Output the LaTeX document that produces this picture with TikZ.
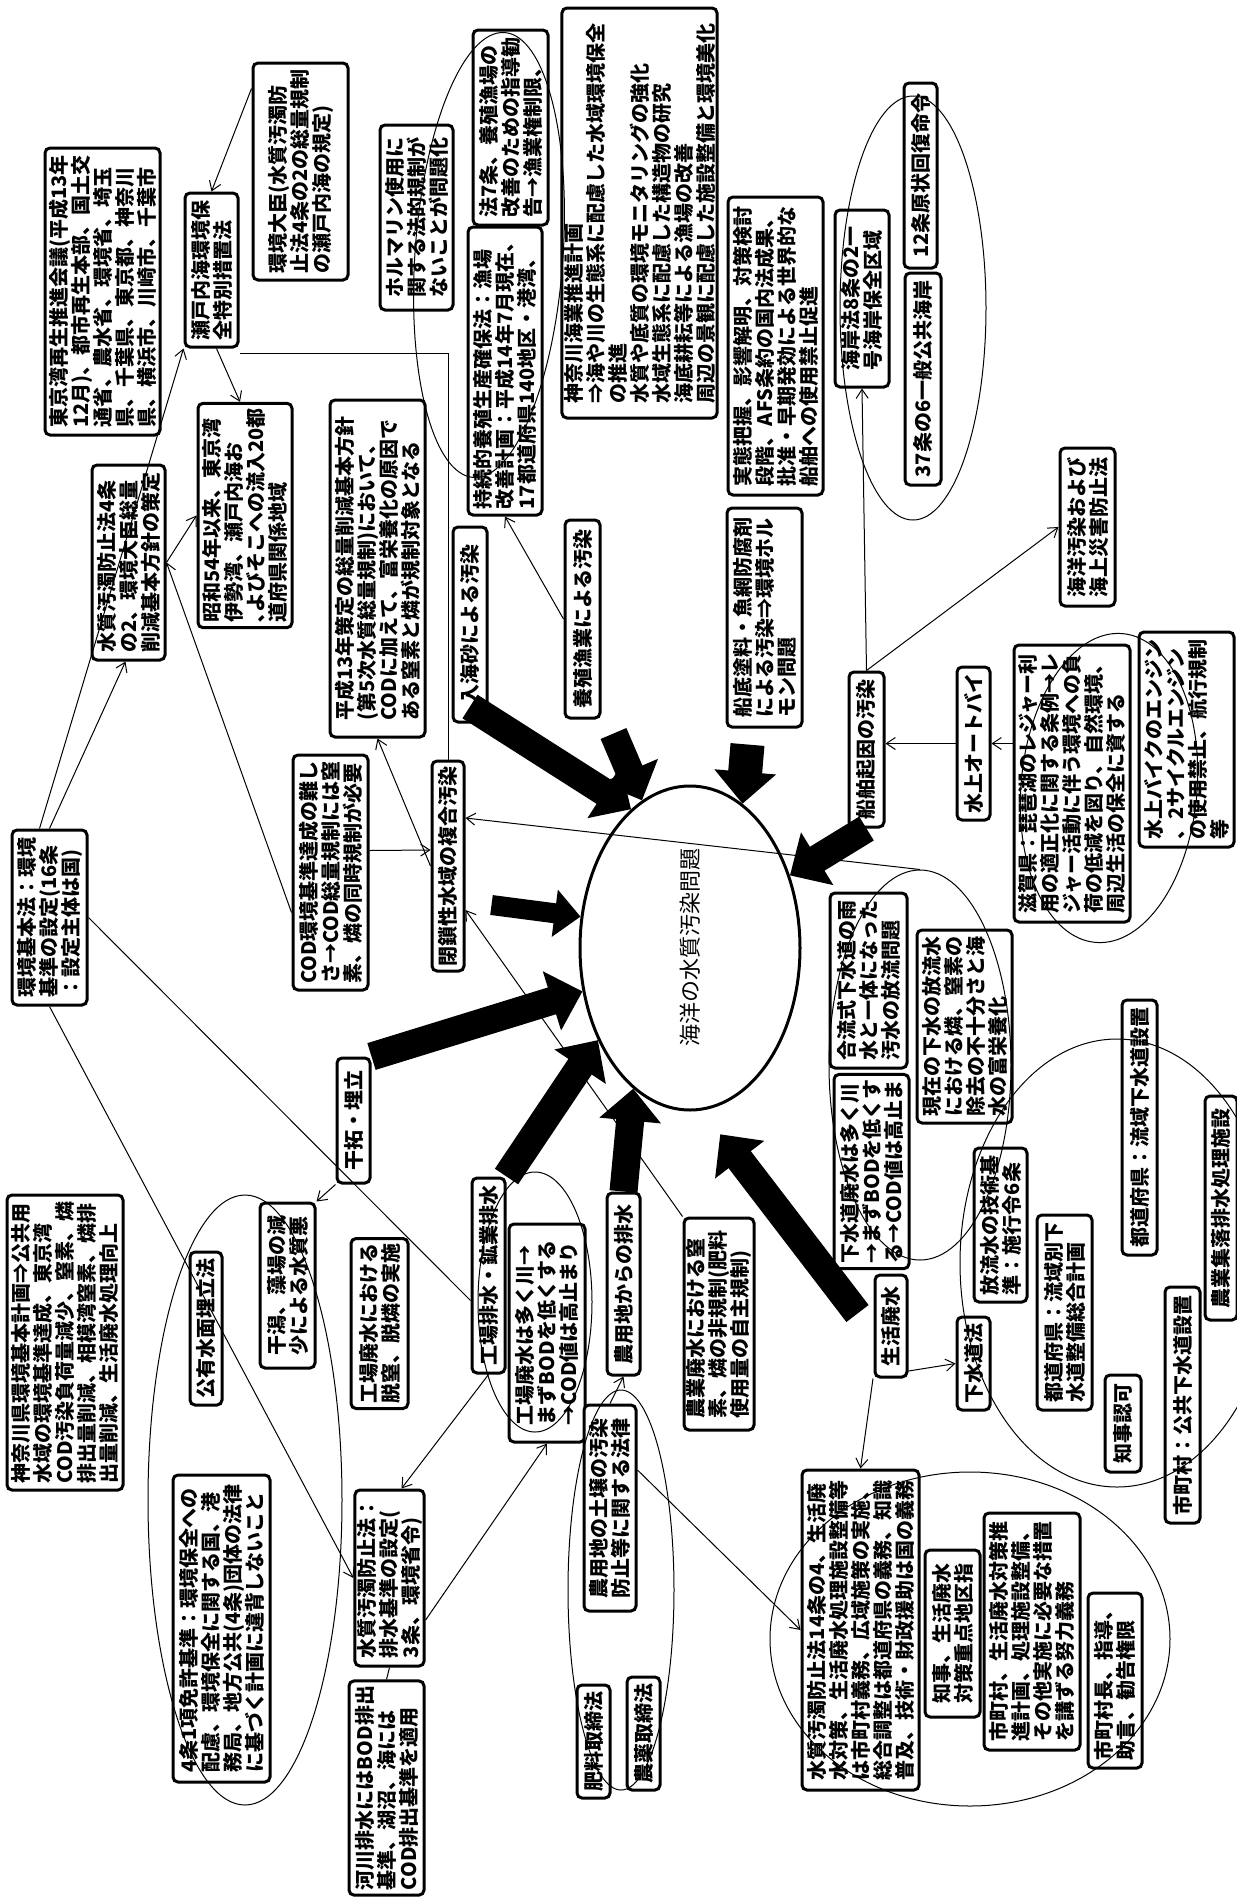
\documentclass[tikz,border=0pt]{standalone}
\usepackage{fontspec}
\newfontfamily\jp{Noto Sans CJK JP}
\usetikzlibrary{arrows.meta,shapes.geometric,calc}

\begin{document}
\begin{tikzpicture}[x=1pt, y=-1pt, >={Straight Barb[length=9pt,width=12pt]},
  box/.style={draw, line width=3pt, rounded corners=5pt, fill=white, rotate=90, align=left,
    inner xsep=5pt, inner ysep=2pt, font=\jp\bfseries\fontsize{20}{22}\selectfont},
  bx/.style 2 args={box, minimum width=#1pt, minimum height=#2pt},
  ring/.style={draw, ellipse, line width=1pt},
  link/.style={line width=1pt},
  fat/.style={line width=28pt, -{Triangle[width=60pt,length=32pt]}}]

  \useasboundingbox (0,0) rectangle (1237,1899);

  % boxes, upper part
  \node[bx={287}{115}] (tokyo) at (102.5,291.5) {東京湾再生推進会議(平成13年\\12月)、都市再生本部、国土交\\通省、農水省、環境省、埼玉\\県、千葉県、東京都、神奈川\\県、横浜市、川崎市、千葉市};
  \node[bx={154}{53}] (setouchi) at (211.5,270) {瀬戸内海環境保\\全特別措置法};
  \node[bx={217}{95}] (daijin) at (300.5,171.5) {環境大臣(水質汚濁防\\止法4条の2の総量規制\\の瀬戸内海の規定)};
  \node[bx={185}{73}] (formalin) at (416.5,217.5) {ホルマリン使用に\\関する法的規制が\\ないことが問題化};
  \node[bx={195}{75}] (hou7) at (510.5,127.5) {法7条、養殖漁場の\\改善のための指導勧\\告→漁業権制限、};
  \node[bx={288}{74}] (jizoku) at (505,371) {持続的養殖生産確保法：漁場\\改善計画：平成14年7月現在、\\17都道府県140地区・港湾、};
  \node[bx={410}{155}] (umigyo) at (639.5,213) {神奈川海業推進計画\\⇒海や川の生態系に配慮した水域環境保全\\の推進\\水質や底質の環境モニタリングの強化\\水域生態系に配慮した構造物の研究\\海底耕耘等による漁場の改善\\周辺の景観に配慮した施設整備と環境美化};
  \node[bx={298}{95}] (jittai) at (775.5,346) {実態把握、影響解明、対策検討\\段階、AFS条約の国内法成果、\\批准・早期発効による世界的な\\船舶への使用禁止促進};
  \node[bx={177}{54}] (kaigan) at (862,298.5) {海岸法8条の2一\\号海岸保全区域};
  \node[bx={185}{33}] (jou12) at (920.5,175.5) {12条原状回復命令};
  \node[bx={212}{36}] (jou37) at (923,379) {37条の6一般公共海岸};

  \node[bx={195}{73}] (suidaku4) at (128.5,562.5) {水質汚濁防止法4条\\の2、環境大臣総量\\削減基本方針の策定};
  \node[bx={215}{94}] (showa) at (245,515.5) {昭和54年以来、東京湾\\伊勢湾、瀬戸内海お\\､よびそこへの流入20都\\道府県関係地域};
  \node[bx={337}{95}] (heisei) at (377.5,568.5) {平成13年策定の総量削減基本方針\\(第5次水質総量規制)において、\\CODに加えて、富栄養化の原因で\\ある窒素と燐が規制対象となる};
  \node[bx={235}{75}] (cod) at (330.5,872.5) {COD環境基準達成の難し\\さ→COD総量規制には窒\\素、燐の同時規制が必要};
  \node[bx={205}{32}] (heisa) at (448,866) {閉鎖性水域の複合汚染};
  \node[bx={195}{34}] (kaisa) at (470,624.5) {入海砂による汚染};
  \node[bx={198}{35}] (yoshoku) at (582.5,619) {養殖漁業による汚染};
  \node[bx={219}{75}] (sentei) at (764.5,617.5) {船底塗料・魚網防腐剤\\による汚染⇒環境ホル\\モン問題};
  \node[bx={175}{75}] (kihon) at (49.5,917.5) {環境基本法：環境\\基準の設定(16条\\：設定主体は国)};

  \node[bx={155}{35}] (senpaku) at (866.5,749.5) {船舶起因の汚染};
  \node[bx={158}{55}] (kaiyo) at (1087.5,527) {海洋汚染および\\海上災害防止法};
  \node[bx={153}{33}] (jetski) at (973.5,743.5) {水上オートバイ};
  \node[bx={277}{116}] (shiga) at (1072,783.5) {滋賀県：琵琶湖のレジャー利\\用の適正化に関する条例→レ\\ジャー活動に伴う環境への負\\荷の低減を図り、自然環境、\\周辺生活の保全に資する};
  \node[bx={215}{95}] (bike) at (1186.5,739.5) {水上バイクのエンジン\\、2サイクルエンジン\\の使用禁止、航行規制\\等};

  % boxes, lower part
  \node[bx={175}{77}] (goryu) at (868.5,980.5) {合流式下水道の雨\\水と一体になった\\汚水の放流問題};
  \node[bx={193}{75}] (gesui) at (871.5,1171.5) {下水道廃水は多く川\\→まずBODを低くす\\る→COD値は高止ま};
  \node[bx={193}{95}] (genzai) at (964.5,1026.5) {現在の下水の放流水\\における燐、窒素の\\除去の不十分さと海\\水の富栄養化};
  \node[bx={154}{53}] (gijutsu) at (1000.5,1225) {放流水の技術基\\準：施行令6条};
  \node[bx={255}{35}] (ryuiki) at (1139.5,1127.5) {都道府県：流域下水道設置};
  \node[bx={224}{32}] (shuraku) at (1221,1208) {農業集落排水処理施設};
  \node[bx={195}{55}] (betsu) at (1064.5,1312.5) {都道府県：流域別下\\水道整備総合計画};
  \node[bx={102}{32}] (seikatsu) at (891,1326) {生活廃水};
  \node[bx={93}{33}] (gesuiho) at (973.5,1363.5) {下水道法};
  \node[bx={97}{36}] (ninka) at (1123,1423.5) {知事認可};
  \node[bx={236}{35}] (kokyo) at (1182.5,1405) {市町村：公共下水道設置};
  \node[bx={320}{117}] (jou14) at (860.5,1630) {水質汚濁防止法14条の4、生活廃\\水対策、生活廃水処理施設整備等\\は市町村義務、広域施策の実施、\\総合調整は都道府県の義務、知識\\普及、技術・財政援助は国の義務};
  \node[bx={167}{55}] (chiji) at (952.5,1633.5) {知事、生活廃水\\対策重点地区指};
  \node[bx={237}{96}] (doryoku) at (1032,1631.5) {市町村、生活廃水対策推\\進計画、処理施設整備、\\その他実施に必要な措置\\を講ずる努力義務};
  \node[bx={175}{54}] (chouchou) at (1115,1680.5) {市町村長、指導、\\助言、勧告権限};

  \node[bx={295}{116}] (kkeikaku) at (65,1342.5) {神奈川県環境基本計画⇒公共用\\水域の環境基準達成、東京湾\\COD汚染負荷量減少、窒素、燐\\排出量削減、相模湾窒素、燐排\\出量削減、生活廃水処理向上};
  \node[bx={125}{33}] (kantaku) at (353.5,1120.5) {干拓・埋立};
  \node[bx={165}{55}] (higata) at (287.5,1285.5) {干潟、藻場の減\\少による水質悪};
  \node[bx={153}{32}] (koyu) at (206,1328.5) {公有水面埋立法};
  \node[bx={163}{57}] (dacchitsu) at (379.5,1323.5) {工場廃水における\\脱窒、脱燐の実施};
  \node[bx={307}{97}] (menkyo) at (221.5,1628.5) {4条1項免許基準：環境保全への\\配慮、環境保全に関する国、港\\務局、地方公共(4条)団体の法律\\に基づく計画に違背しないこと};
  \node[bx={176}{69}] (haisui) at (389.5,1578) {水質汚濁防止法：\\排水基準の設定(\\3条、環境省令)};
  \node[bx={206}{75}] (kasen) at (386.5,1788) {河川排水にはBOD排出\\基準、湖沼、海には\\COD排出基準を適用};
  \node[bx={195}{33}] (kojohaisui) at (488.5,1275.5) {工場排水・鉱業排水};
  \node[bx={218}{76}] (kojoooku) at (547,1333) {工場廃水は多く川→\\まずBODを低くする\\→COD値は高止まり};
  \node[bx={182}{33}] (noyohaisui) at (623.5,1284) {農用地からの排水};
  \node[bx={212}{70}] (nogyo) at (719,1324) {農業廃水における窒\\素、燐の非規制(肥料\\使用量の自主規制)};
  \node[bx={206}{52}] (dojo) at (610,1508) {農用地の土壌の汚染\\防止等に関する法律};
  \node[bx={113}{33}] (hiryo) at (593.5,1741.5) {肥料取締法};
  \node[bx={113}{33}] (noyaku) at (643.5,1733.5) {農薬取締法};

  % centre
  \node[draw, ellipse, line width=3pt, minimum width=220pt, minimum height=324pt] (mondai) at (690,948) {};
  \node[rotate=90, font=\jp\fontsize{22}{24}\selectfont] (mondaitxt) at (690,947) {海洋の水質汚染問題};

  % groupings
  \node[ring, minimum width=148pt, minimum height=446pt, rotate=-4] (e1) at (489,255) {};
  \node[ring, minimum width=146pt, minimum height=424pt] (e2) at (913,308) {};
  \node[ring, minimum width=176pt, minimum height=310pt, rotate=-5] (e3) at (1109,788) {};
  \node[ring, minimum width=114pt, minimum height=260pt] (e4) at (535,1302) {};
  \node[ring, minimum width=106pt, minimum height=400pt] (e5) at (621,1590) {};
  \node[ring, minimum width=400pt, minimum height=334pt] (e6) at (970,1639) {};
  \node[ring, minimum width=194pt, minimum height=610pt] (e7) at (245,1500) {};
  \node[ring, minimum width=182pt, minimum height=390pt] (e8) at (920,1065) {};
  \node[ring, minimum width=314pt, minimum height=448pt] (e9) at (1117,1263) {};

  % thin connectors
  \draw[link,->] ([yshift=-27pt]daijin.north east) -- (setouchi.east);
  \draw[link,->] ([xshift=-10pt]kihon.east) -- (setouchi.north west);
  \draw[link,->] (kihon.east) -- ([xshift=-3pt]suidaku4.west);
  \draw[link,->] (suidaku4.south) -- (showa.north);
  \draw[link,->] ([xshift=5pt]setouchi.west) -- ([xshift=-5pt]showa.east);
  \draw[link] ([yshift=-5pt]setouchi.south west) -| (heisa.east);
  \draw[link,->] (heisa.north) -- (heisei.west);
  \draw[link,->] ([yshift=22pt]cod.south) -- ([yshift=16pt]heisa.north);
  \draw[link,->] ([yshift=-40pt]cod.north) -- (suidaku4.south);
  \draw[link,->] (yoshoku.north) -- (jizoku.west);
  \draw[link,->] (senpaku.east) -- (kaigan.west);
  \draw[link,->] (senpaku.east) -- (kaiyo.north);
  \draw[link,->] (jetski.north) -- (jetski.north -| senpaku.south);
  \draw[link,->] (shiga.north |- jetski.south) -- (jetski.south);
  \draw[link] (kihon.south) -- ([yshift=-25pt]kojohaisui.north);
  \draw[link,->] (kihon.west) -- (haisui.north);
  \draw[link,->] (kantaku.north west) -- (higata.south east);
  \draw[link,->] (kojohaisui.west) -- ([xshift=12pt]haisui.east);
  \draw[link,->] ([yshift=-42pt]haisui.south) -- (kojoooku.west);
  \draw[link] (haisui.west) -- (kasen.east);
  \draw[link,->] (nogyo.north east) -- ([yshift=-44pt]heisa.south);
  \draw[link,->] (e8.north) -- ([yshift=48pt]heisa.south);
  \draw[link,->] (dojo.east) -- (noyohaisui.west);
  \draw[link,->] ([yshift=38pt]dojo.south) -- (jou14.north);
  \draw[link,->] ([yshift=-45pt]seikatsu.south) -- (gesuiho.north);
  \draw[link,->] ([xshift=-18pt]seikatsu.west) -- (jou14.east);

  % block arrows into the centre
  \draw[fat] ([yshift=17pt]kaisa.west) -- (mondai.113);
  \draw[fat] ([xshift=12pt,yshift=-14pt]yoshoku.south west) -- (mondai.108);
  \draw[fat, line width=34pt] ([xshift=-17pt,yshift=-16pt]sentei.west) -- (mondai.70);
  \draw[fat] (senpaku.west) -- (mondai.36);
  \draw[fat, line width=20pt, -{Triangle[width=46pt,length=26pt]}] ([xshift=26pt,yshift=-39pt]heisa.south) -- (mondai.164);
  \draw[fat] (kantaku.south east) -- (mondai.202);
  \draw[fat] ([xshift=18pt]kojohaisui.east) -- (mondai.225);
  \draw[fat] (noyohaisui.east) -- (mondai.248);
  \draw[fat] ([xshift=-16pt,yshift=-40pt]seikatsu.north east) -- ([xshift=5pt,yshift=-27pt]mondai.279);
\end{tikzpicture}
\end{document}
